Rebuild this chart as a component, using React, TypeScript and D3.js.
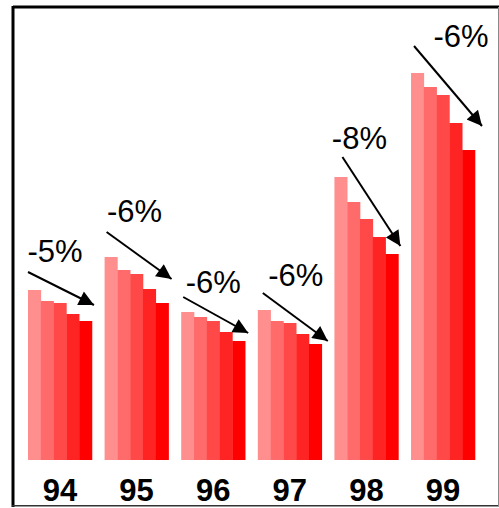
import React from "react";
import * as d3 from "d3";

const categories = ["94", "95", "96", "97", "98", "99"];
// five series per category (lightest -> darkest)
const s1 = [170, 203, 148, 150, 283, 387];
const s2 = [159, 190, 143, 139, 258, 373];
const s3 = [157, 186, 139, 137, 241, 365];
const s4 = [146, 171, 128, 126, 223, 337];
const s5 = [139, 157, 119, 116, 206, 310];
const seriesList = [s1, s2, s3, s4, s5];
const changeLabels = ["-5%", "-6%", "-6%", "-6%", "-8%", "-6%"];
// annotation anchors in value units
const labelValue = [198, 238, 167, 174, 311, 413];
const labelShift = [-5, -2, 0, 6, -7, 18];
const arrowStartValue = [188, 228, 163, 167, 303, 414];
const arrowEndValue = [155, 181, 127, 119, 214, 334];
const arrowStartDx = [0, 2, 2, 5, 8, 3];
const arrowEndDx = [2, 3, 3, 6, 2, 7];

const colors = ["#ff8f8f", "#ff6b6b", "#ff4848", "#ff2424", "#ff0000"];

export default function App() {
  const W = 499, H = 508;
  const x = d3.scaleBand<string>().domain(categories).range([28, 475]).paddingInner(0.165).paddingOuter(0);
  const inner = d3.scaleBand<number>().domain(d3.range(5)).range([0, x.bandwidth()]);
  const y = d3.scaleLinear().domain([0, 460]).range([460, 0]);
  const font = "'Liberation Sans', Arial, Helvetica, sans-serif";

  return (
    <svg width={W} height={H} style={{ position: "absolute", left: 0, top: 0 }}>
      <defs>
        <marker id="ah" viewBox="0 0 10 10" refX="10" refY="5" markerWidth="9" markerHeight="7.5" markerUnits="strokeWidth" orient="auto">
          <path d="M0,0 L10,5 L0,10 z" fill="#000" />
        </marker>
      </defs>
      <rect x={0} y={0} width={W} height={H} fill="#fff" />
      {categories.map((c, ci) => (
        <g key={c}>
          {seriesList.map((s, si) => (
            <rect
              key={si}
              x={(x(c) as number) + (inner(si) as number)}
              y={y(s[ci])}
              width={inner.bandwidth() + 0.3}
              height={y(0) - y(s[ci])}
              fill={colors[si]}
            />
          ))}
          <text
            x={(x(c) as number) + x.bandwidth() / 2}
            y={501}
            textAnchor="middle"
            fontFamily={font}
            fontWeight="bold"
            fontSize={31}
            fill="#000"
          >
            {c}
          </text>
          <text
            x={(x(c) as number) + x.bandwidth() / 2 + labelShift[ci]}
            y={y(labelValue[ci])}
            textAnchor="middle"
            fontFamily={font}
            fontSize={31}
            fill="#000"
          >
            {changeLabels[ci]}
          </text>
          <line
            x1={(x(c) as number) + arrowStartDx[ci]}
            y1={y(arrowStartValue[ci])}
            x2={(x(c) as number) + x.bandwidth() + arrowEndDx[ci]}
            y2={y(arrowEndValue[ci])}
            stroke="#000"
            strokeWidth={2}
            markerEnd="url(#ah)"
          />
        </g>
      ))}
      <line x1={13} y1={7} x2={499} y2={7} stroke="#000" strokeWidth={3} />
      <line x1={13} y1={6} x2={13} y2={507} stroke="#000" strokeWidth={3} />
      <line x1={12} y1={505.8} x2={499} y2={505.8} stroke="#333" strokeWidth={1.6} />
      <line x1={498.5} y1={7} x2={498.5} y2={506} stroke="#888" strokeWidth={1} />
    </svg>
  );
}
